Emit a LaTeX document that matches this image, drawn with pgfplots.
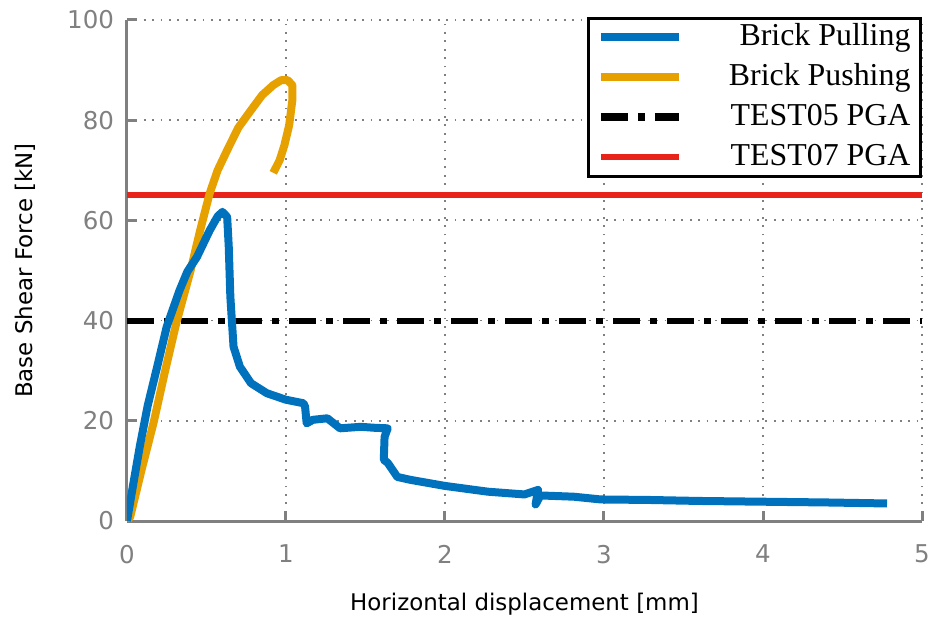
\documentclass[border=0pt]{standalone}
\usepackage{fontspec}
\setmainfont{Liberation Serif}
\newfontfamily\lblfont{DejaVu Sans}
\usepackage{pgfplots}
\pgfplotsset{compat=1.18}
\definecolor{cblue}{HTML}{0072BD}
\definecolor{corange}{HTML}{E6A000}
\definecolor{cred}{HTML}{E8231A}
\definecolor{cgray}{HTML}{808080}
\begin{document}
\begin{tikzpicture}
\useasboundingbox (-63.5bp,-49bp) rectangle (403.5bp,260.5bp);
\begin{axis}[
  at={(0,0)}, anchor=south west,
  scale only axis, width=397.5bp, height=250.5bp,
  xmin=0, xmax=5, ymin=0, ymax=100,
  xtick={0,1,2,3,4,5}, ytick={0,20,40,60,80,100},
  axis lines*=left,
  axis line style={cgray, line width=1.5bp},
  major tick style={cgray, line width=1.5bp},
  major tick length=5bp,
  tick align=inside,
  grid=major,
  major grid style={cgray, line width=0.9bp, dash pattern=on 0.9bp off 3.3bp},
  tick label style={font=\lblfont\fontsize{12.3}{14}\selectfont, text=cgray},
  /pgf/number format/assume math mode=true,
  xticklabel style={yshift=-8.5bp},
  yticklabel style={xshift=-3bp},
  label style={font=\lblfont\fontsize{11.5}{13}\selectfont},
  xlabel={Horizontal displacement [mm]},
  ylabel={Base Shear Force [kN]},
  xlabel style={at={(axis description cs:0.5,-0.1657)}, anchor=center},
  ylabel style={at={(axis description cs:-0.1283,0.5)}, anchor=center},
  legend cell align=right,
  legend style={at={(rel axis cs:1,1.006)}, anchor=north east,
    draw=black, line width=1.5bp, inner xsep=3.5bp, inner ysep=0.5bp,
    font=\fontsize{16}{18}\selectfont,
    row sep=2bp, column sep=21.5bp,
    nodes={inner sep=1.5bp, text height=11.5bp, text depth=3.5bp}},
  legend image code/.code={\draw[#1] (2.5bp,0bp) -- (41.5bp,0bp); \path[draw=none] (0bp,0bp) -- (2.5bp,0bp);},
]
\addplot[black, line width=3bp, dash pattern=on 13.5bp off 5bp on 3.5bp off 5bp, forget plot] coordinates {(0,40) (5,40)};
\addplot[cred, line width=3bp, forget plot] coordinates {(0,65) (5,65)};
\addplot[corange, line width=4bp, line join=round, forget plot] coordinates {
(0,0) (0.02,0.8) (0.09,10) (0.17,20) (0.24,30) (0.31,39.5) (0.40,50) (0.46,58)
(0.52,65.4) (0.57,70) (0.63,74) (0.70,78.5) (0.78,82) (0.85,85) (0.92,87)
(0.97,88) (1.01,88) (1.04,87) (1.04,84) (1.02,79) (0.99,75) (0.96,72) (0.92,69.5)};
\addplot[cblue, line width=4bp, line join=round, forget plot] coordinates {
(0,0) (0.04,7.5) (0.08,14.8) (0.13,23) (0.19,30.8) (0.25,38.8) (0.33,46)
(0.38,49.8) (0.44,52.7) (0.52,58) (0.57,60.8) (0.60,61.7) (0.63,60.7) (0.64,54.7)
(0.65,44.8) (0.67,34.8) (0.71,30.8) (0.78,27.5) (0.88,25.5) (1.0,24.2)
(1.11,23.5) (1.12,22.8) (1.13,19.5) (1.17,20.2) (1.26,20.5) (1.30,19.5)
(1.34,18.5) (1.47,18.8) (1.56,18.6) (1.64,18.5) (1.62,16.8) (1.615,12.2)
(1.64,11.6) (1.70,8.8) (1.785,8.2) (2.0,7.0) (2.27,5.85) (2.50,5.3)
(2.585,6.2) (2.57,3.3) (2.60,5.1) (2.81,4.85) (2.98,4.3) (3.28,4.2)
(3.6,4.0) (4.0,3.85) (4.4,3.7) (4.78,3.5)};
\addlegendimage{cblue, line width=4bp}
\addlegendentry{Brick Pulling}
\addlegendimage{corange, line width=4bp}
\addlegendentry{Brick Pushing}
\addlegendimage{black, line width=4bp, dash pattern=on 13.5bp off 5bp on 3.5bp off 5bp}
\addlegendentry{TEST05 PGA}
\addlegendimage{cred, line width=3bp}
\addlegendentry{TEST07 PGA}
\end{axis}
\end{tikzpicture}
\end{document}
